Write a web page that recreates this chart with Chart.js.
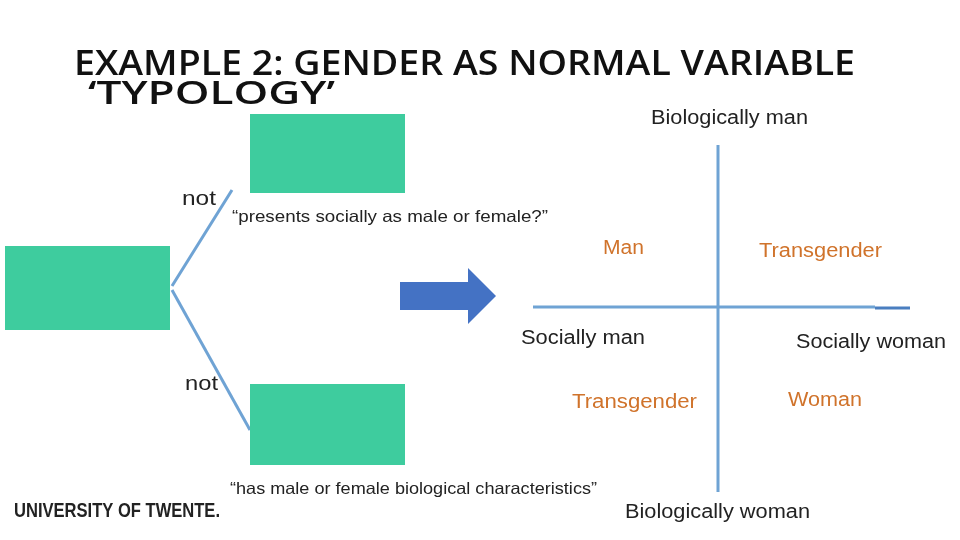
<!DOCTYPE html>
<html><head><meta charset="utf-8">
<script src="https://cdn.jsdelivr.net/npm/chart.js@4/dist/chart.umd.min.js"></script>
<style>html,body{margin:0;padding:0;background:#fff}#w{width:960px;height:540px}</style>
</head><body><div id="w"><canvas id="c"></canvas></div>
<script>
const quadrantLabels = ["Man","Transgender","Transgender","Woman"];
const axisLabels = ["Biologically man","Biologically woman","Socially man","Socially woman"];
const verticalAxis = [{x:718,y:145},{x:718,y:492}];
const horizontalAxis = [{x:533,y:307},{x:875,y:307}];
const horizontalTail = [{x:875,y:308},{x:910,y:308}];
const branchTop = [{x:172,y:286},{x:232,y:190}];
const branchBottom = [{x:172,y:290},{x:250,y:430}];

const deco = {
  id:'deco',
  afterDatasetsDraw(ch){
    const c=ch.ctx, X=ch.scales.x, Y=ch.scales.y;
    const px=v=>X.getPixelForValue(v), py=v=>Y.getPixelForValue(v);
    const fit=(t,x0,x1,y)=>{const w=c.measureText(t).width;const s=(px(x1)-px(x0))/w;
      c.save();c.translate(px(x0),py(y));c.scale(s,1);c.fillText(t,0,0);c.restore();};
    c.save();
    c.fillStyle='#3ECC9E';
    [[250,114,155,79],[5,246,165,84],[250,384,155,81]].forEach(r=>c.fillRect(px(r[0]),py(r[1]),r[2],r[3]));
    c.fillStyle='#4472C4';
    c.beginPath();
    c.moveTo(px(400),py(282));c.lineTo(px(468),py(282));c.lineTo(px(468),py(268));
    c.lineTo(px(496),py(296));c.lineTo(px(468),py(324));c.lineTo(px(468),py(310));
    c.lineTo(px(400),py(310));c.closePath();c.fill();
    c.textBaseline='alphabetic';
    c.fillStyle='#111';
    c.font='600 35px "Open Sans"';
    fit('EXAMPLE 2: GENDER AS NORMAL VARIABLE',74,855,75);
    c.font='600 33px "Open Sans"';
    fit('‘TYPOLOGY’',88,335,104);
    c.fillStyle='#222';
    c.font='20px "Liberation Sans"';
    fit(axisLabels[0],651,808,124);
    fit(axisLabels[1],625,810,518);
    fit(axisLabels[2],521,645,344);
    fit(axisLabels[3],796,946,348);
    fit('not',182,216,205);
    fit('not',185,218,390);
    c.font='16.5px "Liberation Sans"';
    fit('“presents socially as male or female?”',232,548,222);
    fit('“has male or female biological characteristics”',230,597,494);
    c.font='20px "Liberation Sans"';
    c.fillStyle='#D0732B';
    fit(quadrantLabels[0],603,644,254);
    fit(quadrantLabels[1],759,882,257);
    fit(quadrantLabels[2],572,697,408);
    fit(quadrantLabels[3],788,862,406);
    c.fillStyle='#222';
    c.font='bold 20px "Liberation Sans Narrow","Liberation Sans"';
    fit('UNIVERSITY OF TWENTE.',14,220,517);
    c.restore();
  }
};
const ln=(d,col,w)=>({data:d,showLine:true,borderColor:col,borderWidth:w,pointRadius:0,fill:false});
new Chart(document.getElementById('c'),{
  type:'scatter',
  data:{datasets:[
    ln(verticalAxis,'#6FA3D4',3),ln(horizontalAxis,'#6FA3D4',3),ln(horizontalTail,'#4A7EC0',3),
    ln(branchTop,'#6FA3D4',3),ln(branchBottom,'#6FA3D4',3)
  ]},
  options:{responsive:true,maintainAspectRatio:false,animation:false,
    layout:{padding:0},
    plugins:{legend:{display:false},tooltip:{enabled:false}},
    scales:{x:{type:'linear',min:0,max:960,display:false},
            y:{type:'linear',min:0,max:540,reverse:true,display:false}}},
  plugins:[deco]
});
</script></body></html>
